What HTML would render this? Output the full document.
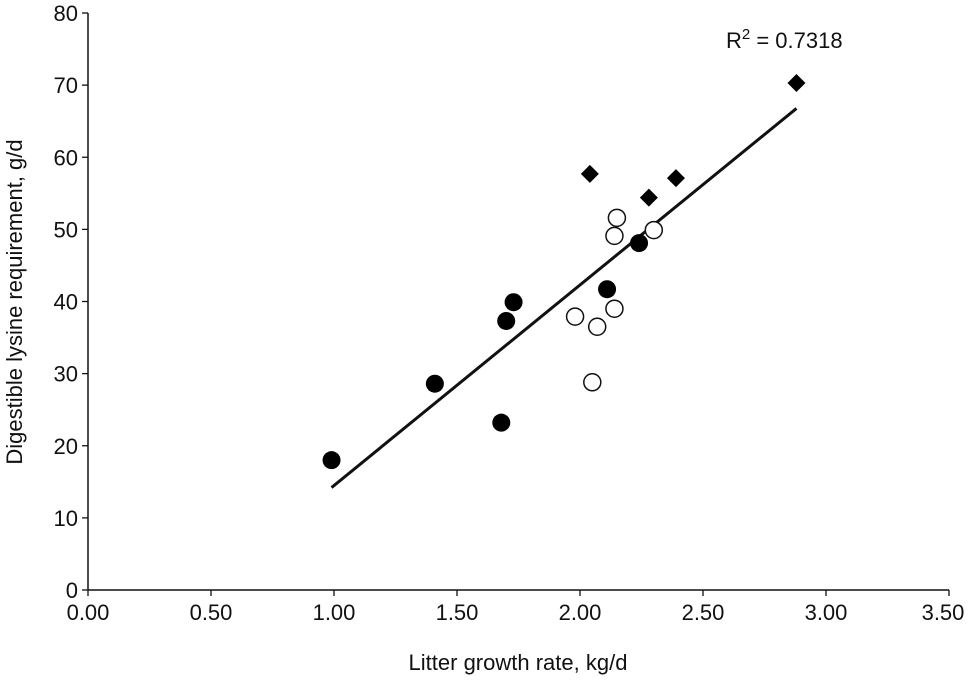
<!DOCTYPE html>
<html><head><meta charset="utf-8"><style>
body{margin:0;background:#fff;}
svg text{font-family:"Liberation Sans",sans-serif;fill:#111;}
</style></head><body>
<svg id="c" width="976" height="681" xmlns="http://www.w3.org/2000/svg"></svg>
<script>
const xTicks=[0,0.5,1,1.5,2,2.5,3,3.5];
const yTicks=[0,10,20,30,40,50,60,70,80];
const filledX=[0.99,1.41,1.68,1.70,1.73,2.11,2.24];
const filledY=[18.0,28.6,23.2,37.3,39.9,41.7,48.1];
const openX=[1.98,2.05,2.07,2.14,2.14,2.15,2.30];
const openY=[37.9,28.8,36.5,39.0,49.1,51.6,49.9];
const diamondX=[2.04,2.28,2.39,2.88];
const diamondY=[57.7,54.4,57.1,70.3];
const r2Label="0.7318";
const NS="http://www.w3.org/2000/svg";
const svg=document.getElementById('c');
const X0=88,X1=949,Y0=590,Y1=13;
const sx=v=>X0+(v-0)/(3.5)*(X1-X0);
const sy=v=>Y0-(v/80)*(Y0-Y1);
function el(t,a,p){const e=document.createElementNS(NS,t);for(const k in a)e.setAttribute(k,a[k]);(p||svg).appendChild(e);return e;}
let e;
e=el('line',{x1:X0,y1:Y0,x2:X1,y2:Y0,stroke:'#111','stroke-width':1.5});


e=el('line',{x1:X0,y1:Y0,x2:X0,y2:Y1,stroke:'#111','stroke-width':1.5});


xTicks.forEach(v=>{
 el('line',{x1:sx(v),y1:Y0,x2:sx(v),y2:Y0+6,stroke:'#111','stroke-width':1.3});
 const t=el('text',{x:Math.min(sx(v),943),y:620,'text-anchor':'middle','font-size':22});
 t.textContent=v.toFixed(2);
 
 
});
yTicks.forEach(v=>{
 el('line',{x1:X0-6,y1:sy(v),x2:X0,y2:sy(v),stroke:'#111','stroke-width':1.3});
 const t=el('text',{x:X0-10,y:sy(v)+8,'text-anchor':'end','font-size':22});
 t.textContent=v;
 
 
});
e=el('text',{x:518,y:670,'text-anchor':'middle','font-size':22});
e.textContent='Litter growth rate, kg/d';


e=el('text',{x:0,y:0,'text-anchor':'middle','font-size':22,transform:'translate(22,302) rotate(-90)'});
e.textContent='Digestible lysine requirement, g/d';


const ax=filledX.concat(openX,diamondX), ay=filledY.concat(openY,diamondY);
const n=ax.length, mx=ax.reduce((a,b)=>a+b)/n, my=ay.reduce((a,b)=>a+b)/n;
let sxy=0,sxx=0;for(let i=0;i<n;i++){sxy+=(ax[i]-mx)*(ay[i]-my);sxx+=(ax[i]-mx)**2;}
const b=sxy/sxx,a=my-b*mx;
const xmin=Math.min(...ax),xmax=Math.max(...ax);
e=el('line',{x1:sx(xmin),y1:sy(a+b*xmin),x2:sx(xmax),y2:sy(a+b*xmax),stroke:'#111','stroke-width':3});


filledX.forEach((v,i)=>{
 const c=el('circle',{cx:sx(v),cy:sy(filledY[i]),r:9,fill:'#000'});
 
 
});
openX.forEach((v,i)=>{
 const c=el('circle',{cx:sx(v),cy:sy(openY[i]),r:8.5,fill:'#fff',stroke:'#111','stroke-width':1.5});
 
 
});
diamondX.forEach((v,i)=>{
 const x=sx(v),y=sy(diamondY[i]);
 const p=el('polygon',{points:`${x},${y-9} ${x+9},${y} ${x},${y+9} ${x-9},${y}`,fill:'#000'});
 
 
});
e=el('text',{x:726,y:48,'font-size':22});
e.innerHTML='R<tspan font-size="15" dy="-9">2</tspan><tspan dy="9"> = '+r2Label+'</tspan>';


</script>
</body></html>
